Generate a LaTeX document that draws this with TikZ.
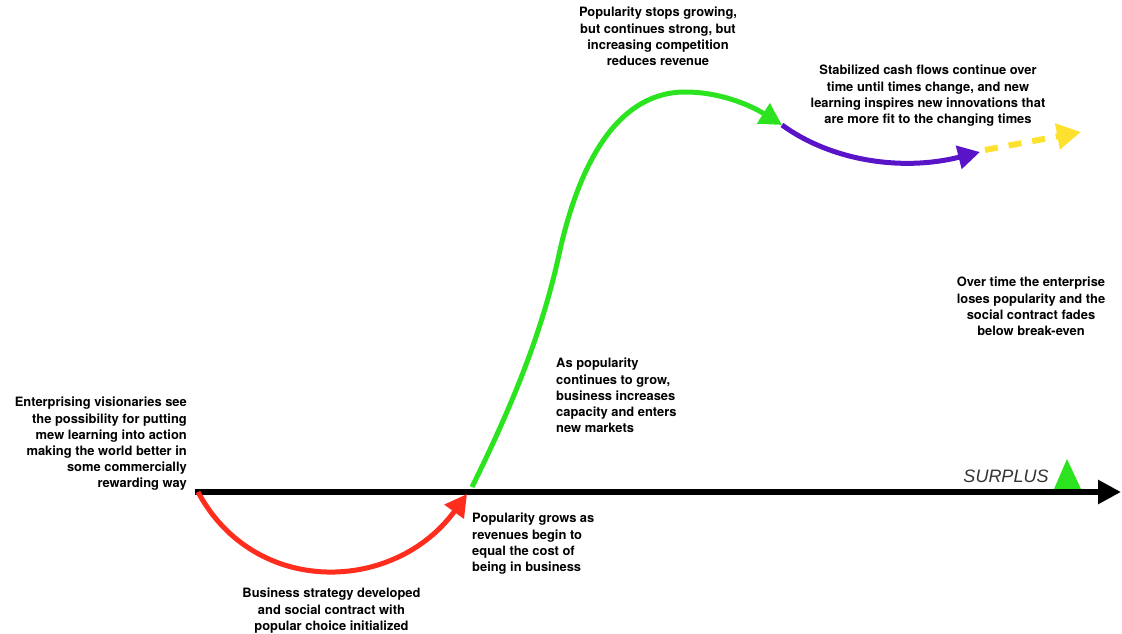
\documentclass[tikz,border=0pt]{standalone}
\usepackage{fontspec}
\setmainfont{TeX Gyre Heros}
\newfontfamily\surplusfont{Liberation Sans}
\usetikzlibrary{arrows.meta}
\definecolor{cRed}{HTML}{FF2D1E}
\definecolor{cGreen}{HTML}{2BE41F}
\definecolor{cPurple}{HTML}{5A14C8}
\definecolor{cYellow}{HTML}{FDE12E}
\definecolor{cGray}{HTML}{333333}
\tikzset{
  lbl/.style={inner sep=0pt, font={\bfseries\fontsize{12.9}{16.2}\selectfont}, text=black},
  curve/.style={line width=5pt, line cap=butt},
  bigtip/.style={-{Triangle[length=22pt,width=23pt]}},
}
\begin{document}
\begin{tikzpicture}[x=1pt,y=-1pt]
\useasboundingbox (0,0) rectangle (1122,634);
% coordinates
\coordinate (axisL) at (195,492);
\coordinate (axisR) at (1121,492);
\coordinate (start) at (198,492);
\coordinate (breakeven) at (467,494);
\coordinate (gstart) at (472,487);
\coordinate (grow) at (560,250);
\coordinate (peak) at (685,92);
\coordinate (plateau) at (782,125);
\coordinate (stable) at (980,152);
\coordinate (ystart) at (985,150);
\coordinate (fade) at (1081,132);
% green marker
\fill[cGreen] (1054,489) -- (1067,459) -- (1081,489) -- cycle;
% axis
\draw[line width=6pt, -{Triangle[length=23pt,width=23pt]}] (axisL) -- (axisR);
\node[inner sep=0pt, font={\surplusfont\itshape\fontsize{18}{20}\selectfont}, text=cGray] (surplus) at (1006,476) {SURPLUS};
% red
\draw[curve, cRed, bigtip] (start) .. controls (255,598) and (395,593) .. (breakeven);
% green
\draw[curve, cGreen, bigtip] (gstart) .. controls (520,390) and (545,320) .. (grow)
   .. controls (585,140) and (630,92) .. (peak)
   .. controls (720,92) and (750,105) .. (plateau);
% purple
\draw[curve, cPurple, bigtip] (plateau) .. controls (830,160) and (900,172) .. (stable);
% yellow dashed
\draw[line width=6pt, cYellow, dash pattern=on 13pt off 11pt, -{Triangle[length=24pt,width=25pt]}] (ystart) -- (fade);
% labels
\node[lbl, align=right, anchor=north east] (t1) at (187,397) {Enterprising visionaries see\\the possibility for putting\\mew learning into action\\making the world better in\\some commercially\\rewarding way};
\node[lbl, align=center, anchor=north] (t2) at (331.5,588) {Business strategy developed\\and social contract with\\popular choice initialized};
\node[lbl, align=left, anchor=north west] (t3) at (472,513) {Popularity grows as\\revenues begin to\\equal the cost of\\being in business};
\node[lbl, align=left, anchor=north west] (t4) at (556,358) {As popularity\\continues to grow,\\business increases\\capacity and enters\\new markets};
\node[lbl, align=center, anchor=north] (t5) at (658,7) {Popularity stops growing,\\but continues strong, but\\increasing competition\\reduces revenue};
\node[lbl, align=center, anchor=north] (t6) at (928,65) {Stabilized cash flows continue over\\time until times change, and new\\learning inspires new innovations that\\are more fit to the changing times};
\node[lbl, align=center, anchor=north] (t7) at (1031,277) {Over time the enterprise\\loses popularity and the\\social contract fades\\below break-even};
\end{tikzpicture}
\end{document}
